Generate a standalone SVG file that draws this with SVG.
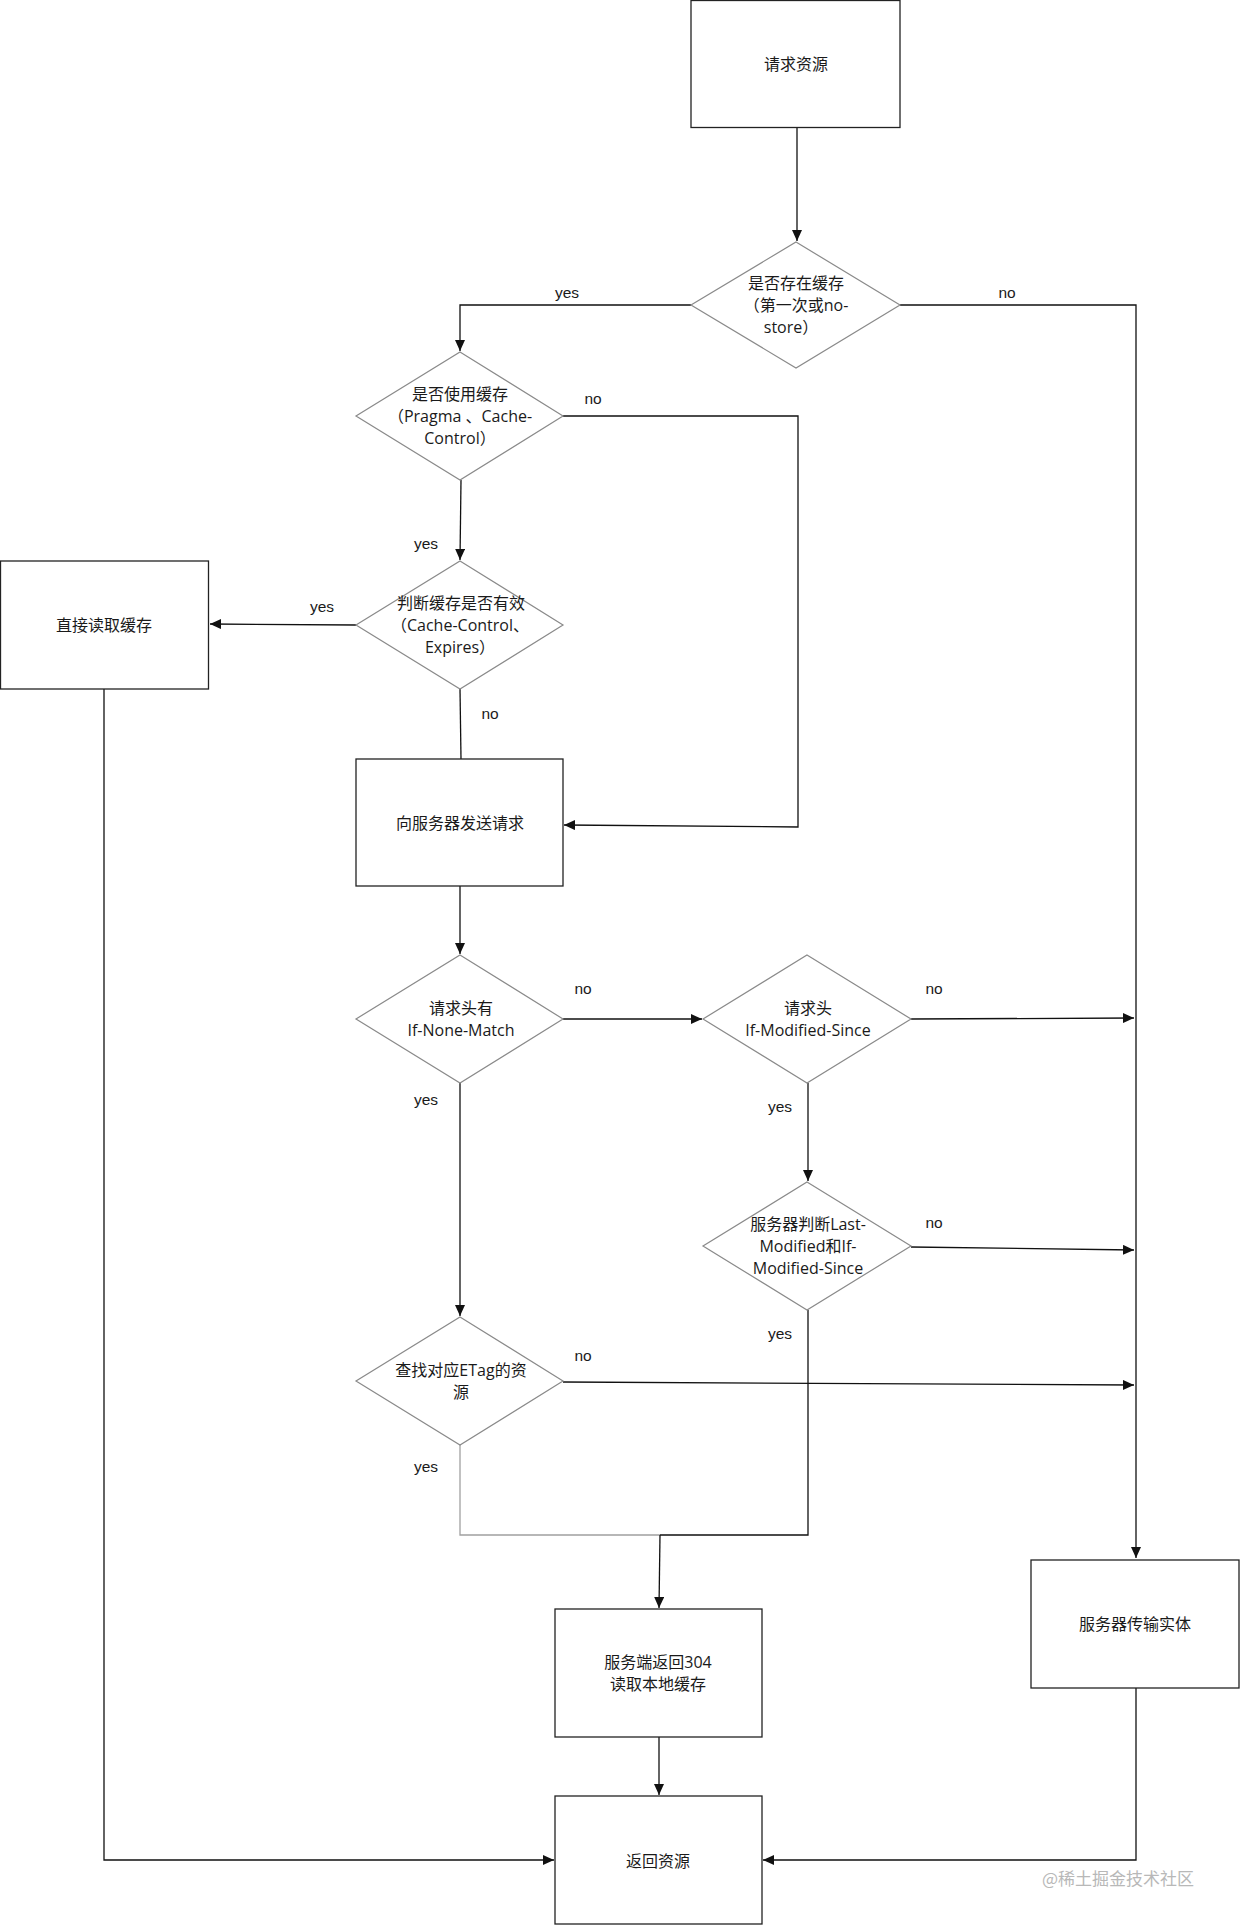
<svg xmlns="http://www.w3.org/2000/svg" width="1240" height="1925" viewBox="0 0 1240 1925">
<style>
.box{fill:#fff;stroke:#222;stroke-width:1.3}
.dia{fill:#fff;stroke:#8a8a8a;stroke-width:1.2}
.t{font-family:"Open Sans","Noto Sans CJK SC",sans-serif;font-size:16px;fill:#1a1a1a;text-anchor:middle;dominant-baseline:central}
.lb{font-family:"Liberation Sans","Noto Sans CJK SC",sans-serif;font-size:15.5px;fill:#1a1a1a;text-anchor:middle;dominant-baseline:central}
.c{fill:none;stroke:#111;stroke-width:1.3}
.cg{fill:none;stroke:#a0a0a0;stroke-width:1.3}
.wm{font-family:"Noto Sans CJK SC",sans-serif;font-size:17px;fill:#b8b8b8;text-anchor:start;dominant-baseline:central}
</style>
<defs>
<marker id="ar" markerUnits="userSpaceOnUse" markerWidth="12" markerHeight="10" refX="11" refY="5" orient="auto">
<path d="M0,0 L11,5 L0,10 Z" fill="#111"/>
</marker>
</defs>
<rect width="1240" height="1925" fill="#fff"/>

<g id="connectors">
<path class="c" d="M797,128 L797,241" marker-end="url(#ar)"/>
<path class="c" d="M691,305 L460,305 L460,351" marker-end="url(#ar)"/>
<path class="c" d="M900,305 L1136,305 L1136,1558" marker-end="url(#ar)"/>
<path class="c" d="M563,416 L798,416 L798,827 L564,825" marker-end="url(#ar)"/>
<path class="c" d="M461,480 L460,560" marker-end="url(#ar)"/>
<path class="c" d="M356,625 L210,624" marker-end="url(#ar)"/>
<path class="c" d="M460,689 L461,759"/>
<path class="c" d="M104,689 L104,1860 L554,1860" marker-end="url(#ar)"/>
<path class="c" d="M460,886 L460,954" marker-end="url(#ar)"/>
<path class="c" d="M563,1019 L702,1019" marker-end="url(#ar)"/>
<path class="c" d="M460,1083 L460,1316" marker-end="url(#ar)"/>
<path class="c" d="M911,1019 L1134,1018" marker-end="url(#ar)"/>
<path class="c" d="M808,1083 L808,1181" marker-end="url(#ar)"/>
<path class="c" d="M911,1247 L1134,1250" marker-end="url(#ar)"/>
<path class="c" d="M563,1382 L1134,1385" marker-end="url(#ar)"/>
<path class="cg" d="M460,1445 L460,1535 L660,1535"/>
<path class="c" d="M808,1310 L808,1535 L660,1535"/>
<path class="c" d="M660,1535 L659,1608" marker-end="url(#ar)"/>
<path class="c" d="M659,1737 L659,1795" marker-end="url(#ar)"/>
<path class="c" d="M1136,1688 L1136,1860 L763,1860" marker-end="url(#ar)"/>
<text class="lb" x="567" y="292">yes</text>
<text class="lb" x="1007" y="292">no</text>
<text class="lb" x="593" y="398">no</text>
<text class="lb" x="426" y="543">yes</text>
<text class="lb" x="322" y="606">yes</text>
<text class="lb" x="490" y="713">no</text>
<text class="lb" x="583" y="988">no</text>
<text class="lb" x="426" y="1099">yes</text>
<text class="lb" x="934" y="988">no</text>
<text class="lb" x="780" y="1106">yes</text>
<text class="lb" x="934" y="1222">no</text>
<text class="lb" x="780" y="1333">yes</text>
<text class="lb" x="583" y="1355">no</text>
<text class="lb" x="426" y="1466">yes</text>
</g>

<g id="n-request">
<rect class="box" x="691" y="0.5" width="209" height="127"/>
<text class="t" x="796" y="64">请求资源</text>
</g>
<g id="n-exist">
<polygon class="dia" points="796,242 900,305 796,368 691,305"/>
<text class="t" x="796" y="283">是否存在缓存</text>
<text class="t" x="796" y="305">（第一次或no-</text>
<text class="t" x="791" y="327">store）</text>
</g>
<g id="n-use">
<polygon class="dia" points="460,352 563,416 460,480 356,416"/>
<text class="t" x="460" y="394">是否使用缓存</text>
<text class="t" x="460" y="416">（Pragma 、Cache-</text>
<text class="t" x="460" y="438">Control）</text>
</g>
<g id="n-valid">
<polygon class="dia" points="460,561 563,625 460,689 356,625"/>
<text class="t" x="461" y="603">判断缓存是否有效</text>
<text class="t" x="460" y="625">（Cache-Control、</text>
<text class="t" x="460" y="647">Expires）</text>
</g>
<g id="n-read">
<rect class="box" x="0.5" y="561" width="208" height="128"/>
<text class="t" x="104" y="625">直接读取缓存</text>
</g>
<g id="n-send">
<rect class="box" x="356" y="759" width="207" height="127"/>
<text class="t" x="460" y="823">向服务器发送请求</text>
</g>
<g id="n-inm">
<polygon class="dia" points="460,955 563,1019 460,1083 356,1019"/>
<text class="t" x="461" y="1008">请求头有</text>
<text class="t" x="461" y="1030">If-None-Match</text>
</g>
<g id="n-ims">
<polygon class="dia" points="807,955 911,1019 807,1083 703,1019"/>
<text class="t" x="808" y="1008">请求头</text>
<text class="t" x="808" y="1030">If-Modified-Since</text>
</g>
<g id="n-lm">
<polygon class="dia" points="807,1182 911,1246 807,1310 703,1246"/>
<text class="t" x="808" y="1224">服务器判断Last-</text>
<text class="t" x="808" y="1246">Modified和If-</text>
<text class="t" x="808" y="1268">Modified-Since</text>
</g>
<g id="n-etag">
<polygon class="dia" points="460,1317 563,1381 460,1445 356,1381"/>
<text class="t" x="461" y="1370">查找对应ETag的资</text>
<text class="t" x="461" y="1392">源</text>
</g>
<g id="n-304">
<rect class="box" x="555" y="1609" width="207" height="128"/>
<text class="t" x="658" y="1662">服务端返回304</text>
<text class="t" x="658" y="1684">读取本地缓存</text>
</g>
<g id="n-entity">
<rect class="box" x="1031" y="1560" width="208" height="128"/>
<text class="t" x="1135" y="1624">服务器传输实体</text>
</g>
<g id="n-return">
<rect class="box" x="555" y="1796" width="207" height="128"/>
<text class="t" x="658" y="1861">返回资源</text>
</g>
<text class="wm" x="1042" y="1877">@稀土掘金技术社区</text>
</svg>
